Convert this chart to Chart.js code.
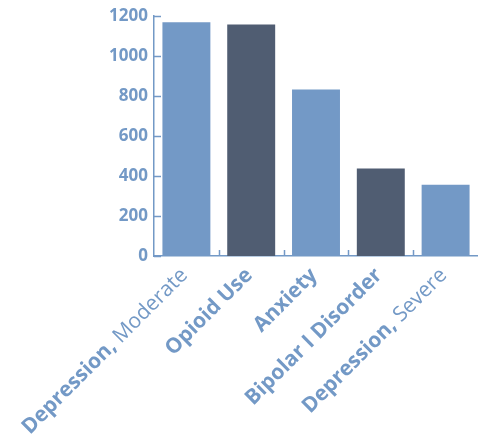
<!DOCTYPE html>
<html>
<head>
<meta charset="utf-8">
<script src="https://cdn.jsdelivr.net/npm/chart.js@4"></script>
<style>
  html, body { margin: 0; padding: 0; background: #fff; }
  #wrap { width: 478px; height: 436px; position: relative; }
</style>
</head>
<body>
<div id="wrap"><canvas id="chart"></canvas></div>
<script>
const categories = ["Depression, Moderate", "Opioid Use", "Anxiety", "Bipolar I Disorder", "Depression, Severe"];
const values = [1170, 1159, 833, 438, 357];
const yTicks = [0, 200, 400, 600, 800, 1000, 1200];

const LIGHT = "#7399c6";
const DARK = "#505d72";
const TEXT = "#7399c6";
const FONT = "'Open Sans', sans-serif";

// inward tick marks + rotated two-weight category labels
const axisDecor = {
  id: "axisDecor",
  afterDraw(chart) {
    const ctx = chart.ctx;
    const x = chart.scales.x;
    const y = chart.scales.y;
    ctx.save();
    ctx.strokeStyle = LIGHT;
    ctx.lineWidth = 1.5;
    ctx.beginPath();
    yTicks.forEach(v => {
      const py = Math.round(y.getPixelForValue(v)) + 0.5;
      ctx.moveTo(x.left, py);
      ctx.lineTo(x.left + 7, py);
    });
    for (let i = 1; i < categories.length; i++) {
      const px = Math.round(x.getPixelForValue(i - 0.5)) + 0.5;
      ctx.moveTo(px, y.bottom);
      ctx.lineTo(px, y.bottom - 6);
    }
    ctx.stroke();

    ctx.fillStyle = TEXT;
    ctx.textBaseline = "middle";
    ctx.textAlign = "right";
    categories.forEach((name, i) => {
      const cut = name.indexOf(",");
      const bold = cut >= 0 ? name.slice(0, cut + 1) : name;
      const light = cut >= 0 ? name.slice(cut + 1) : "";
      const cx = x.getPixelForValue(i);
      ctx.save();
      ctx.translate(cx - 2, y.bottom + 16);
      ctx.rotate(-Math.PI / 4);
      ctx.font = "400 21px " + FONT;
      const lw = light ? ctx.measureText(light).width : 0;
      if (light) ctx.fillText(light, 0, 0);
      ctx.font = "700 21px " + FONT;
      ctx.fillText(bold, -lw, 0);
      ctx.restore();
    });
    ctx.restore();
  }
};

new Chart(document.getElementById("chart"), {
  type: "bar",
  data: {
    labels: categories,
    datasets: [{
      data: values,
      backgroundColor: values.map((_, i) => i % 2 === 0 ? LIGHT : DARK),
      borderWidth: 0,
      categoryPercentage: 1,
      barPercentage: 0.74
    }]
  },
  options: {
    responsive: true,
    maintainAspectRatio: false,
    animation: false,
    layout: { padding: { top: 8, right: 0, bottom: 180, left: 0 } },
    plugins: { legend: { display: false }, tooltip: { enabled: false } },
    scales: {
      x: {
        grid: { display: false, drawTicks: false },
        border: { color: LIGHT, width: 1.5 },
        ticks: { display: false }
      },
      y: {
        min: 0,
        max: 1200,
        afterFit(scale) { scale.width = 154; },
        afterBuildTicks(scale) { scale.ticks = yTicks.map(v => ({ value: v })); },
        grid: { display: false, drawTicks: false },
        border: { color: LIGHT, width: 1.5 },
        ticks: {
          padding: 6,
          color: TEXT,
          callback: v => String(v),
          font: { family: FONT, size: 17, weight: "bold" }
        }
      }
    }
  },
  plugins: [axisDecor]
});
</script>
</body>
</html>
